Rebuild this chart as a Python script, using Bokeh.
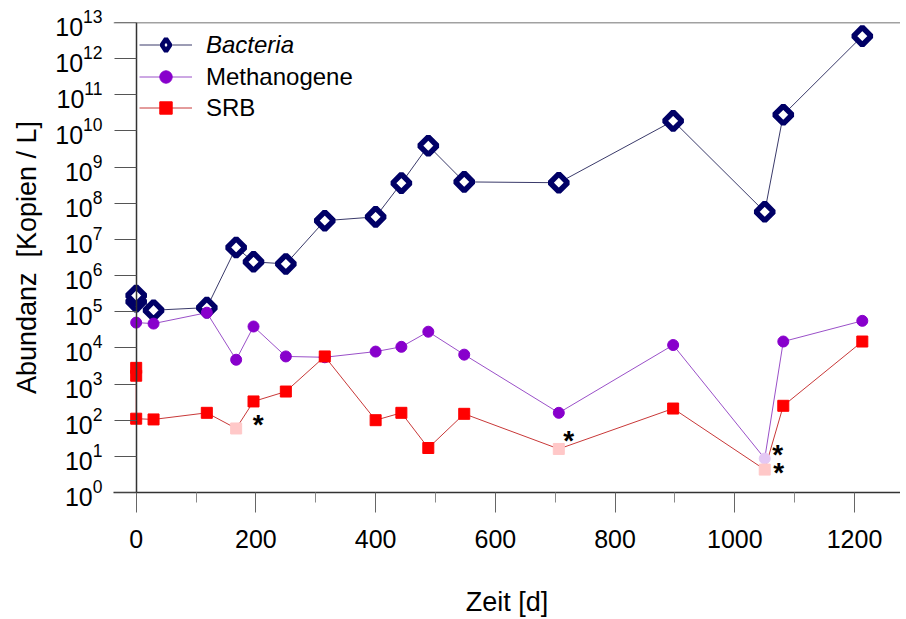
import math
from bokeh.plotting import figure
from bokeh.models import (Range1d, FixedTicker, LogTickFormatter, Legend, LegendItem,
                          Span, ColumnDataSource, LogAxis)
from bokeh.core.properties import value
from bokeh.embed import file_html
from bokeh.resources import INLINE

# ---------------- data ----------------
bac_t = [0, 0, 29, 118, 167, 196, 250, 315, 400, 443, 488, 548, 706, 897, 1050, 1081, 1213]
bac_v = [1.9e5, 2.8e5, 1.1e5, 1.3e5, 6.0e6, 2.4e6, 2.1e6, 3.3e7, 4.2e7, 3.6e8, 3.9e9,
         3.9e8, 3.7e8, 1.9e10, 5.8e7, 2.8e10, 4.2e12]

met_t = [0, 29, 118, 167, 196, 250, 315, 400, 443, 488, 548, 706, 897, 1050, 1081, 1213]
met_v = [5.0e4, 4.7e4, 9.4e4, 4.7e3, 3.9e4, 5.8e3, 5.5e3, 7.9e3, 1.07e4, 2.8e4, 6.5e3,
         1.6e2, 1.2e4, 8.7, 1.5e4, 5.6e4]
met_flag = [False] * 13 + [True] + [False, False]

srb_t = [0, 0, 0, 29, 118, 167, 196, 250, 315, 400, 443, 488, 548, 706, 897, 1050, 1081, 1213]
srb_v = [2800, 1700, 110, 105, 160, 59, 330, 620, 5800, 100, 160, 17, 150, 16, 210, 4.3, 250, 15000]
srb_flag = [False] * 5 + [True] + [False] * 7 + [True] + [False] + [True] + [False, False]

# points marked with an asterisk (flagged values)
ast_t = [167, 706, 1050, 1050]
ast_v = [59, 16, 8.7, 4.3]
ast_dx = [22, 10, 13, 14]
ast_dy = [-8, -12, -8, -1]

x_ticks = [0, 200, 400, 600, 800, 1000, 1200]
x_minor = [100, 300, 500, 700, 900, 1100]
y_ticks = [10 ** i for i in range(14)]

FONT = "Liberation Sans"
NAVY = "#000066"
PURPLE = "#8800cc"
RED = "#ff0000"

p = figure(width=900, height=619, y_axis_type="log",
           x_range=Range1d(-37.9, 1276.8), y_range=Range1d(1, 1e13),
           output_backend="svg", toolbar_location=None,
           min_border_left=113, min_border_top=22, min_border_right=0,
           min_border_bottom=126)
p.outline_line_color = None
p.xgrid.visible = False
p.ygrid.visible = False
p.background_fill_color = "white"

# lines
lb = p.line(bac_t, bac_v, line_color="#3a3a6a", line_width=1)
lm = p.line(met_t, met_v, line_color="#9a50c8", line_width=1)
ls = p.line(srb_t, srb_v, line_color="#c83838", line_width=1)

# markers
mb = p.scatter(bac_t, bac_v, marker="square", angle=math.pi / 4, size=12.5,
               fill_color="white", line_color=NAVY, line_width=5.5)
# legend-only glyph (legend markers are never rotated); a NaN point draws nothing
mb_leg = p.scatter(x=[float("nan")], y=[float("nan")], marker="diamond",
                   fill_color="white", line_color=NAVY, line_width=4.5)
msrc = ColumnDataSource(dict(t=met_t, v=met_v,
                             c=["#e4c8f4" if f else PURPLE for f in met_flag]))
mm = p.scatter("t", "v", source=msrc, marker="circle", size=11,
               fill_color="c", line_color="c")
ssrc = ColumnDataSource(dict(t=srb_t, v=srb_v,
                             c=["#ffc8c8" if f else RED for f in srb_flag]))
ms = p.scatter("t", "v", source=ssrc, marker="square", size=11,
               fill_color="c", line_color="c")

# asterisks
asrc = ColumnDataSource(dict(t=ast_t, v=ast_v, dx=ast_dx,
                             dy=[d + 4 for d in ast_dy], s=["*"] * len(ast_t)))
p.text("t", "v", text="s", source=asrc, x_offset="dx", y_offset="dy",
       text_font=value(FONT), text_font_size="28px", text_font_style="bold",
       text_color="black", text_align="center", text_baseline="middle")

# top frame line
p.add_layout(Span(location=1e13, dimension="width", line_color="#444444", line_width=1.5))

# x axis
xa = p.xaxis[0]
xa.ticker = FixedTicker(ticks=x_ticks, minor_ticks=x_minor)
xa.major_label_text_font = FONT
xa.major_label_text_font_size = "25px"
xa.major_label_text_color = "black"
xa.major_label_standoff = 17
xa.major_tick_out = 20
xa.major_tick_in = 0
xa.minor_tick_out = 10
xa.minor_tick_in = 0
xa.axis_line_color = "#333333"
xa.axis_line_width = 1.5
xa.major_tick_line_color = "#666666"
xa.minor_tick_line_color = "#888888"
xa.axis_label = "Zeit [d]"
xa.axis_label_text_font = FONT
xa.axis_label_text_font_size = "27px"
xa.axis_label_text_font_style = "normal"
xa.axis_label_text_color = "black"
xa.axis_label_standoff = 36

# y axis line and ticks at t = 0
ya = p.yaxis[0]
ya.ticker = FixedTicker(ticks=y_ticks, minor_ticks=[])
ya.formatter = LogTickFormatter()
ya.fixed_location = 0
ya.major_label_text_alpha = 0
ya.major_tick_out = 22
ya.major_tick_in = 0
ya.minor_tick_out = 0
ya.minor_tick_in = 0
ya.axis_line_color = "#333333"
ya.axis_line_width = 1.5
ya.major_tick_line_color = "#555555"

# y tick labels and title
yl = LogAxis(ticker=FixedTicker(ticks=y_ticks, minor_ticks=[]),
             formatter=LogTickFormatter(),
             axis_line_color=None, major_tick_line_color=None,
             minor_tick_line_color=None, major_tick_out=0, major_tick_in=0,
             minor_tick_out=0, minor_tick_in=0, major_label_standoff=11,
             major_label_text_font=FONT, major_label_text_font_size="25px",
             major_label_text_color="black",
             axis_label="Abundanz\u00a0 [Kopien / L]", axis_label_text_font=FONT,
             axis_label_text_font_size="27px", axis_label_text_font_style="normal",
             axis_label_text_color="black", axis_label_standoff=10)
p.add_layout(yl, "left")

# legends
common = dict(border_line_color=None, background_fill_alpha=0, padding=0, margin=0,
              spacing=0, glyph_width=53, glyph_height=31, label_height=31,
              label_standoff=14, label_text_font=FONT, label_text_font_size="24px",
              label_text_color="black")
legA = Legend(items=[LegendItem(label="Bacteria", renderers=[lb, mb_leg])],
              location=(26, 432), label_text_font_style="italic", **common)
legB = Legend(items=[LegendItem(label="Methanogene", renderers=[lm, mm]),
                     LegendItem(label="SRB", renderers=[ls, ms])],
              location=(26, 369), **common)
p.add_layout(legA)
p.add_layout(legB)

open("out.html", "w").write(file_html(p, INLINE))
